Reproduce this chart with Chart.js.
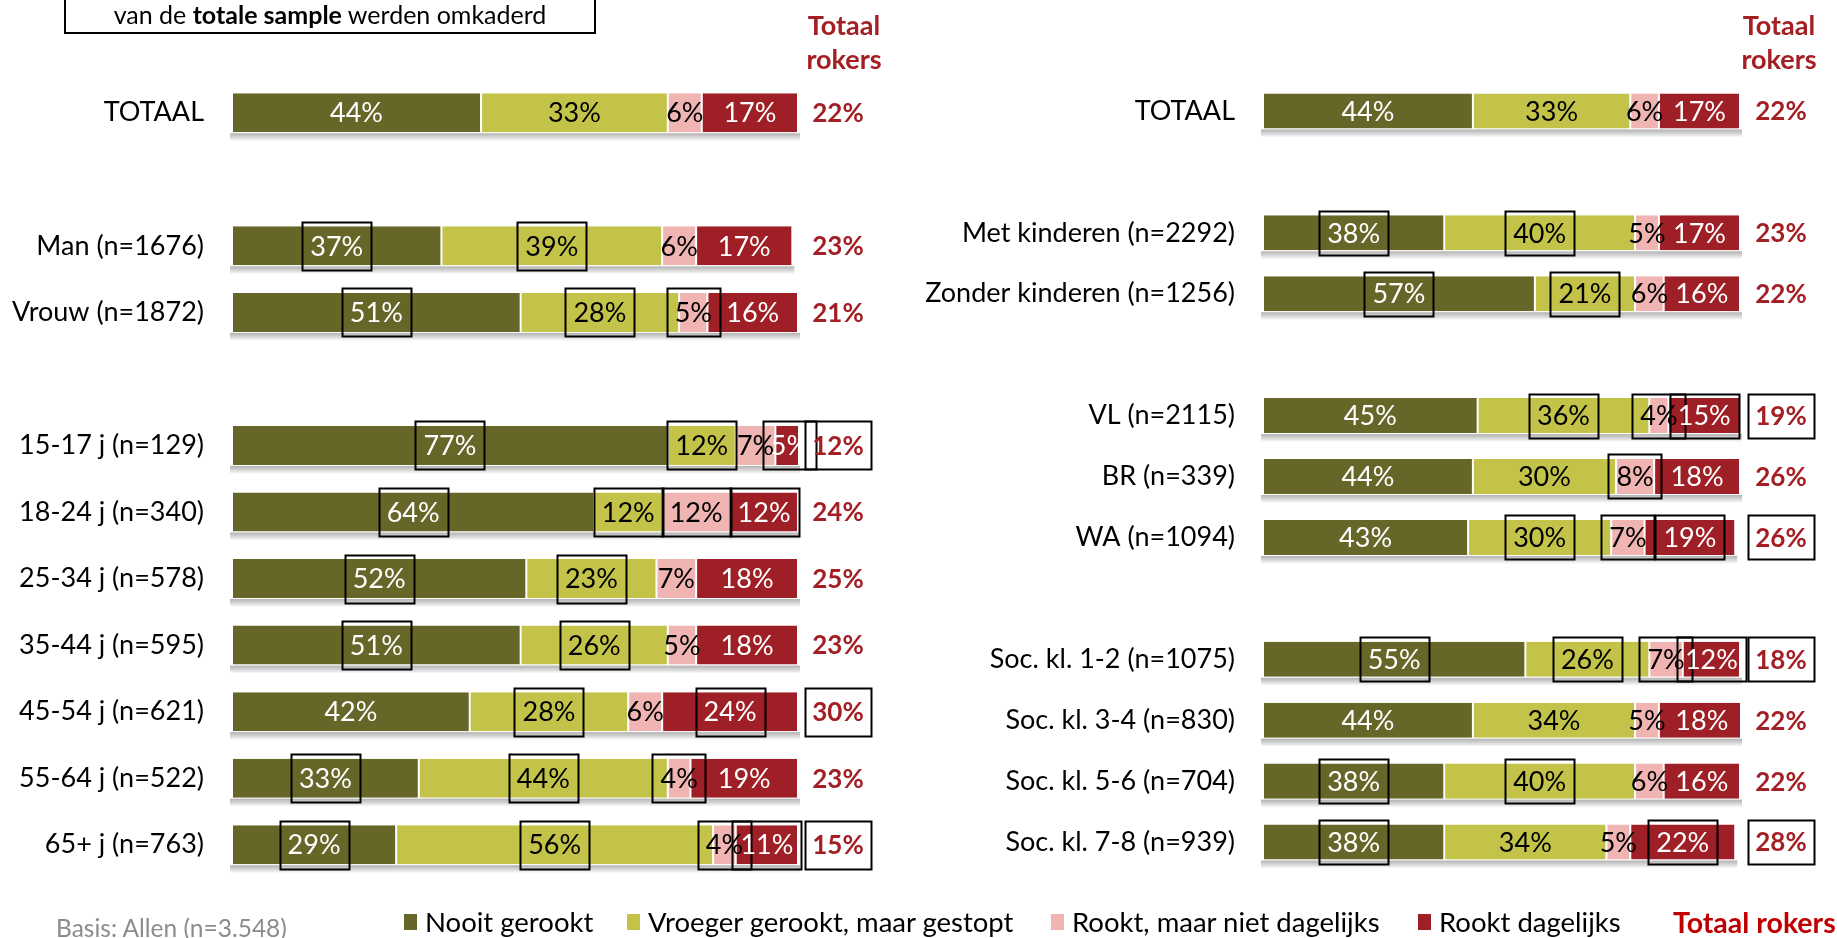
<!DOCTYPE html>
<html><head><meta charset="utf-8">
<script src="https://cdn.jsdelivr.net/npm/chart.js@4.4.0/dist/chart.umd.min.js"></script>
<style>
html,body{margin:0;padding:0;background:#fff;width:1837px;height:938px;overflow:hidden;font-family:Lato,sans-serif;}
#wrap{position:relative;width:1837px;height:938px;}
canvas{position:absolute;top:0;}
#cL{left:0}
#cR{left:918px}
.hdr{position:absolute;top:8px;width:140px;color:#a31f24;font-weight:bold;font-size:27px;text-align:center;line-height:34px;}
#topbox{position:absolute;left:64px;top:-12px;width:532px;height:46px;box-sizing:border-box;border:2px solid #000;}
#toptext{position:absolute;left:64px;top:0;width:532px;line-height:28px;text-align:center;font-size:25px;color:#000;}
.lg{position:absolute;top:907px;line-height:30px;font-size:27.5px;color:#000;white-space:nowrap;}
.mk{position:absolute;top:914px;width:13px;height:16px;}
#basis{position:absolute;left:56px;top:913px;line-height:30px;font-size:24.5px;color:#8c8c8c;white-space:nowrap;}
</style>
</head><body>
<div id="wrap">
<canvas id="cL" width="918" height="938"></canvas>
<canvas id="cR" width="919" height="938"></canvas>
<div id="topbox"></div>
<div id="toptext">van de <b>totale sample</b> werden omkaderd</div>
<div class="hdr" style="left:774px">Totaal<br>rokers</div>
<div class="hdr" style="left:1709px">Totaal<br>rokers</div>
<div id="basis">Basis: Allen (n=3.548)</div>
<div id="legend"></div>
</div>
<script>
// ---------- DATA ----------
const seriesNames = ['Nooit gerookt','Vroeger gerookt, maar gestopt','Rookt, maar niet dagelijks','Rookt dagelijks'];
const totalLabel = 'Totaal rokers';

const leftCategories = ['TOTAAL','','Man (n=1676)','Vrouw (n=1872)','','15-17 j (n=129)','18-24 j (n=340)','25-34 j (n=578)','35-44 j (n=595)','45-54 j (n=621)','55-64 j (n=522)','65+ j (n=763)'];
const leftNooit      = [44,null,37,51,null,77,64,52,51,42,33,29];
const leftVroeger    = [33,null,39,28,null,12,12,23,26,28,44,56];
const leftNiet       = [6,null,6,5,null,7,12,7,5,6,4,4];
const leftDagelijks  = [17,null,17,16,null,5,12,18,18,24,19,11];
const leftTotaal     = [22,null,23,21,null,12,24,25,23,30,23,15];
// significant (boxed) values, 1 = boxed
const leftBoxNooit     = [0,0,1,1,0,1,1,1,1,0,1,1];
const leftBoxVroeger   = [0,0,1,1,0,1,1,1,1,1,1,1];
const leftBoxNiet      = [0,0,0,1,0,0,1,0,0,0,1,1];
const leftBoxDagelijks = [0,0,0,0,0,1,1,0,0,1,0,1];
const leftBoxTotaal    = [0,0,0,0,0,1,0,0,0,1,0,1];

const rightCategories = ['TOTAAL','','Met kinderen (n=2292)','Zonder kinderen (n=1256)','','VL (n=2115)','BR (n=339)','WA (n=1094)','','Soc. kl. 1-2 (n=1075)','Soc. kl. 3-4 (n=830)','Soc. kl. 5-6 (n=704)','Soc. kl. 7-8 (n=939)'];
const rightNooit     = [44,null,38,57,null,45,44,43,null,55,44,38,38];
const rightVroeger   = [33,null,40,21,null,36,30,30,null,26,34,40,34];
const rightNiet      = [6,null,5,6,null,4,8,7,null,7,5,6,5];
const rightDagelijks = [17,null,17,16,null,15,18,19,null,12,18,16,22];
const rightTotaal    = [22,null,23,22,null,19,26,26,null,18,22,22,28];
const rightBoxNooit     = [0,0,1,1,0,0,0,0,0,1,0,1,1];
const rightBoxVroeger   = [0,0,1,1,0,1,0,1,0,1,0,1,0];
const rightBoxNiet      = [0,0,0,0,0,1,1,1,0,1,0,0,0];
const rightBoxDagelijks = [0,0,0,0,0,1,0,1,0,1,0,0,1];
const rightBoxTotaal    = [0,0,0,0,0,1,0,1,0,1,0,0,1];

// ---------- STYLE ----------
const colors = ['#666628','#c3c34a','#f0b4b2','#9e1f25'];
const textColors = ['#ffffff','#000000','#000000','#ffffff'];
const FONT = 'Lato';

// legend (HTML)
(function(){
  const lg = document.getElementById('legend');
  const mk = [404,627,1051,1418];
  seriesNames.forEach((n,i)=>{
    const m = document.createElement('div'); m.className='mk'; m.style.left=mk[i]+'px'; m.style.background=colors[i]; lg.appendChild(m);
    const t = document.createElement('div'); t.className='lg'; t.style.left=(mk[i]+21)+'px'; t.textContent=n; lg.appendChild(t);
  });
  const t = document.createElement('div'); t.className='lg'; t.style.left='1673px'; t.style.color='#c00000'; t.style.fontWeight='bold'; t.style.fontSize='28.5px'; t.textContent=totalLabel; lg.appendChild(t);
})();

// soft gray shadow band under every full bar
const shadowPlugin = {
  id:'barShadow',
  beforeDatasetsDraw(chart){
    const c = chart.ctx;
    const metas = chart.data.datasets.map((d,i)=>chart.getDatasetMeta(i));
    c.save();
    metas[0].data.forEach((bar,j)=>{
      if (chart.data.datasets[0].data[j]==null) return;
      const l = Math.min(bar.base, bar.x);
      let r = l;
      metas.forEach(m=>{ const b=m.data[j]; if (b) r = Math.max(r, b.x); });
      r = Math.min(r, chart.chartArea.right);
      const top = bar.y + bar.height/2 + 1;
      const g = c.createLinearGradient(0, top, 0, top + 8);
      g.addColorStop(0, 'rgba(0,0,0,0.30)');
      g.addColorStop(0.5, 'rgba(0,0,0,0.16)');
      g.addColorStop(1, 'rgba(0,0,0,0)');
      c.fillStyle = g;
      c.fillRect(l - 2, top, r - l + 4, 8);
    });
    c.restore();
  }
};

function labelPlugin(boxes, totals, totalBoxes, totalOffset){
  return {
    id:'segLabels',
    afterDatasetsDraw(chart){
      const ctx = chart.ctx;
      ctx.save();
      ctx.textAlign='center'; ctx.textBaseline='middle';
      chart.data.datasets.forEach((ds,di)=>{
        const meta = chart.getDatasetMeta(di);
        meta.data.forEach((bar,j)=>{
          const v = ds.data[j]; if (v==null) return;
          const x = (bar.x + bar.base)/2, y = bar.y;
          const txt = v + '%';
          ctx.font = '27px ' + FONT;
          ctx.fillStyle = textColors[di];
          ctx.fillText(txt, x, y+1);
          if (boxes[di][j]) {
            const w = ctx.measureText(txt).width + 16, h = bar.height + 9;
            ctx.lineWidth = 2; ctx.strokeStyle = '#000';
            ctx.strokeRect(Math.round(x-w/2)+0.5, Math.round(y-h/2)+0.5, Math.round(w), Math.round(h));
          }
        });
      });
      const ys = chart.scales.y;
      const bh = chart.getDatasetMeta(0).data.find(b=>b && b.height)?.height || 36;
      totals.forEach((t,j)=>{
        if (t==null) return;
        const y = ys.getPixelForValue(j), x = chart.chartArea.right + totalOffset;
        const txt = t + '%';
        ctx.font = 'bold 26px ' + FONT;
        ctx.fillStyle = '#a31f24';
        ctx.fillText(txt, x, y+1);
        if (totalBoxes[j]) {
          const w = 66, h = bh + 9;
          ctx.lineWidth = 2; ctx.strokeStyle = '#000';
          ctx.strokeRect(Math.round(x-w/2)+0.5, Math.round(y-h/2)+0.5, w, Math.round(h));
        }
      });
      ctx.restore();
    }
  };
}

function makeChart(id, cats, series, boxes, totals, totalBoxes, geo){
  new Chart(document.getElementById(id), {
    type:'bar',
    data:{
      labels:cats,
      datasets:series.map((s,i)=>({
        label:seriesNames[i], data:s, backgroundColor:colors[i],
        borderColor:'#ffffff', borderWidth:{left:1,right:1,top:0,bottom:0}, borderSkipped:false,
        barPercentage:geo.barPct, categoryPercentage:1
      }))
    },
    options:{
      indexAxis:'y', responsive:false, animation:false, events:[],
      layout:{padding:{left:0,right:geo.right,top:geo.top,bottom:geo.bottom}},
      plugins:{legend:{display:false}, tooltip:{enabled:false}},
      scales:{
        x:{stacked:true, display:false, min:0, max:100},
        y:{stacked:true, grid:{display:false, drawTicks:false}, border:{display:false},
           ticks:{padding:28, color:'#000', autoSkip:false, font:{family:FONT, size:27}},
           afterFit:(s)=>{s.width = geo.left;}}
      }
    },
    plugins:[shadowPlugin, labelPlugin(boxes, totals, totalBoxes, geo.totalOffset)]
  });
}

function draw(){
  makeChart('cL', leftCategories,
    [leftNooit,leftVroeger,leftNiet,leftDagelijks],
    [leftBoxNooit,leftBoxVroeger,leftBoxNiet,leftBoxDagelijks],
    leftTotaal, leftBoxTotaal,
    {left:232, right:120, top:79.5, bottom:60, barPct:0.586, totalOffset:40});
  makeChart('cR', rightCategories,
    [rightNooit,rightVroeger,rightNiet,rightDagelijks],
    [rightBoxNooit,rightBoxVroeger,rightBoxNiet,rightBoxDagelijks],
    rightTotaal, rightBoxTotaal,
    {left:345, right:97, top:80.5, bottom:65.5, barPct:0.575, totalOffset:41});
}
if (document.fonts && document.fonts.load) {
  Promise.all([document.fonts.load('27px Lato'), document.fonts.load('bold 26px Lato')]).then(draw, draw);
} else draw();
</script>
</body></html>
